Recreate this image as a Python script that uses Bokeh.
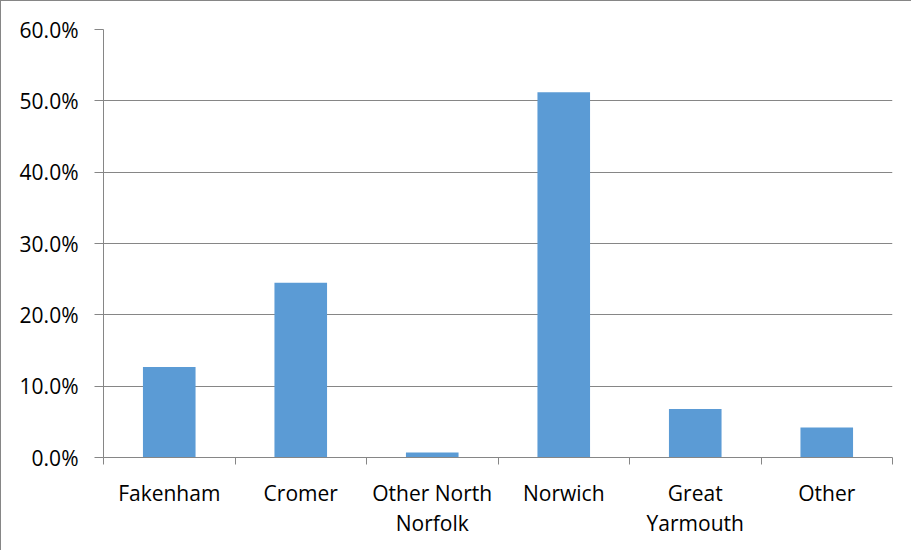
import numpy as np
from bokeh.plotting import figure
from bokeh.models import Range1d, FixedTicker, NumeralTickFormatter, ColumnDataSource
from bokeh.embed import file_html
from bokeh.resources import INLINE

categories = ["Fakenham", "Cromer", "Other North Norfolk", "Norwich", "Great Yarmouth", "Other"]
tick_labels = ["Fakenham", "Cromer", "Other North\nNorfolk", "Norwich", "Great\nYarmouth", "Other"]
values = [0.127, 0.245, 0.007, 0.512, 0.068, 0.042]
y_ticks = [0.0, 0.1, 0.2, 0.3, 0.4, 0.5, 0.6]

FONT = "Open Sans"
GRAY = "#868686"
BAR = "#5B9BD5"

xpos = [i + 0.5 for i in range(len(categories))]
src = ColumnDataSource(dict(x=xpos, top=values, name=categories))

p = figure(width=911, height=550, output_backend="svg", toolbar_location=None,
           x_range=Range1d(0, len(categories)), y_range=Range1d(0, 0.6),
           min_border_left=102, min_border_top=28, min_border_right=20, min_border_bottom=94,
           styles={"border-left": "1px solid #868686", "border-top": "1px solid #868686"})
p.outline_line_color = None
p.background_fill_color = "white"
p.border_fill_color = "white"

p.vbar(x="x", top="top", width=0.4, source=src, fill_color=BAR, line_color=None)

# y axis
p.yaxis.ticker = FixedTicker(ticks=y_ticks, minor_ticks=[])
p.yaxis.formatter = NumeralTickFormatter(format="0.0%")
p.yaxis.axis_line_color = GRAY
p.yaxis.major_tick_line_color = GRAY
p.yaxis.major_tick_out = 9
p.yaxis.major_tick_in = 0
p.yaxis.minor_tick_line_color = None
p.yaxis.major_label_standoff = 16
p.yaxis.major_label_text_font = FONT
p.yaxis.major_label_text_font_size = "21px"
p.yaxis.major_label_text_color = "#000000"

# x axis: labels at centers, ticks at boundaries (minor ticks)
p.xaxis.ticker = FixedTicker(ticks=xpos, minor_ticks=list(range(len(categories) + 1)))
p.xaxis.major_label_overrides = {x: lab for x, lab in zip(xpos, tick_labels)}
p.xaxis.axis_line_color = GRAY
p.xaxis.major_tick_line_color = None
p.xaxis.major_tick_out = 0
p.xaxis.major_tick_in = 0
p.xaxis.minor_tick_line_color = GRAY
p.xaxis.minor_tick_out = 7
p.xaxis.minor_tick_in = 0
p.xaxis.major_label_standoff = 14
p.xaxis.major_label_text_font = FONT
p.xaxis.major_label_text_font_size = "21px"
p.xaxis.major_label_text_color = "#000000"
p.xaxis.major_label_text_line_height = 1.08

p.xgrid.grid_line_color = None
p.ygrid.grid_line_color = GRAY
p.ygrid.grid_line_width = 1

open("out.html", "w").write(file_html(p, INLINE))
